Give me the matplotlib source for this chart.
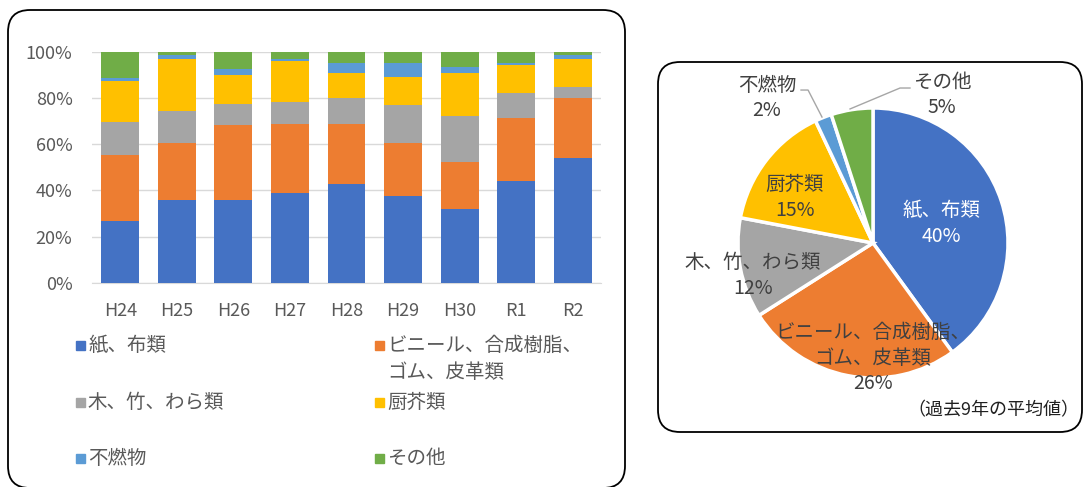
import numpy as np
import matplotlib
matplotlib.use("Agg")
import matplotlib.pyplot as plt
from matplotlib.patches import FancyBboxPatch, Rectangle

plt.rcParams['font.family'] = ['Noto Sans CJK JP', 'DejaVu Sans']

# ==========================
# DATA
# ==========================

years = ["H24", "H25", "H26", "H27", "H28", "H29", "H30", "R1", "R2"]

categories = ["紙、布類", "ビニール、合成樹脂、\nゴム、皮革類", "木、竹、わら類",
              "厨芥類", "不燃物", "その他"]

paper   = [27.0, 36.1, 36.1, 38.8, 43.0, 37.4, 31.8, 43.9, 54.0]
vinyl   = [28.3, 24.6, 32.0, 29.8, 25.6, 23.3, 20.6, 27.6, 26.1]
wood    = [14.1, 13.5,  9.2,  9.8, 11.4, 16.4, 19.8, 10.5,  4.8]
kitchen = [17.8, 22.8, 12.8, 17.7, 10.6, 12.1, 18.4, 12.2, 12.1]
nonburn = [ 1.3,  1.4,  2.6,  0.7,  4.4,  5.8,  2.9,  0.8,  1.4]
other   = [11.5,  1.6,  7.3,  3.2,  5.0,  5.0,  6.5,  5.0,  1.6]

pie_values = [40, 26, 12, 15, 2, 5]

colors = ["#4472C4", "#ED7D31", "#A5A5A5", "#FFC000", "#5B9BD5", "#70AD47"]

W, H = 1083, 487
fig = plt.figure(figsize=(W / 100, H / 100), dpi=100)

# ==========================
# BACKGROUND BOXES (pixel coords)
# ==========================

bg = fig.add_axes([0, 0, 1, 1], zorder=0)
bg.set_xlim(0, W)
bg.set_ylim(H, 0)
bg.axis("off")

bg.add_patch(FancyBboxPatch((8, 10), 617, 478,
                            boxstyle="round,pad=0,rounding_size=22",
                            facecolor="white", edgecolor="black", linewidth=1.3))
bg.add_patch(FancyBboxPatch((658, 62), 424, 370,
                            boxstyle="round,pad=0,rounding_size=22",
                            facecolor="white", edgecolor="black", linewidth=1.3))

# ==========================
# STACKED BAR CHART
# ==========================

ax = fig.add_axes([92 / W, (H - 283) / H, 509 / W, 231.3 / H], zorder=2)
ax.set_facecolor("none")

series = [paper, vinyl, wood, kitchen, nonburn, other]
x = np.arange(len(years))
bottom = np.zeros(len(years))
for vals, col in zip(series, colors):
    ax.bar(x, vals, width=0.67, bottom=bottom, color=col, zorder=3)
    bottom += np.array(vals)

ax.set_xlim(-0.5, len(years) - 0.5)
ax.set_ylim(0, 100)
ax.set_yticks(range(0, 101, 20))
ax.set_yticklabels([f"{v}%" for v in range(0, 101, 20)])
ax.set_xticks(x)
ax.set_xticklabels(years)
ax.tick_params(length=0, labelsize=13, colors="#595959")
ax.tick_params(axis="x", pad=14)
ax.tick_params(axis="y", pad=14)
ax.grid(axis="y", color="#D9D9D9", linewidth=1, zorder=0)
for s in ["top", "right", "left"]:
    ax.spines[s].set_visible(False)
ax.spines["bottom"].set_color("#D9D9D9")

# legend (manual grid like Excel)
leg_pos = [(80, 345), (379, 345), (80, 402), (379, 402), (80, 458), (379, 458)]
for (lx, ly), lab, col in zip(leg_pos, categories, colors):
    bg.add_patch(Rectangle((lx - 4.5, ly - 4.5), 9, 9, color=col, zorder=3))
    lines = lab.split("\n")
    for i, line in enumerate(lines):
        bg.text(lx + 8, ly + i * 28, line, fontsize=14, color="#595959",
                va="center", ha="left", zorder=3)

# ==========================
# PIE CHART
# ==========================

r_px = 135
cx, cy = 873, 243
side = 2.5 * r_px
pax = fig.add_axes([(cx - side / 2) / W, (H - cy - side / 2) / H, side / W, side / H],
                   zorder=2)
pax.pie(pie_values, colors=colors, startangle=90, counterclock=False,
        wedgeprops=dict(edgecolor="white", linewidth=2.5))

pie_names = ["紙、布類", "ビニール、合成樹脂、\nゴム、皮革類", "木、竹、わら類",
             "厨芥類", "不燃物", "その他"]
label_xy = [(0.51, 0.24), (0.0, -0.665), (-0.89, -0.148),
            (-0.578, 0.43), (-0.785, 1.17), (0.511, 1.19)]
label_col = ["white", "#404040", "#404040", "#404040", "#404040", "#404040"]
step = 25.5 / r_px
for name, v, (px, py), tc in zip(pie_names, pie_values, label_xy, label_col):
    lines = name.split("\n") + [f"{v}%"]
    for i, line in enumerate(lines):
        pax.text(px, py - i * step, line, fontsize=14, color=tc,
                 ha="center", va="center")

# leader lines
pax.plot([-0.533, -0.481, -0.378], [1.133, 1.133, 0.933], color="#A6A6A6", lw=1)
pax.plot([-0.170, 0.200, 0.274], [0.993, 1.148, 1.148], color="#A6A6A6", lw=1)

bg.text(1079, 410, "（過去9年の平均値）", fontsize=13, color="#202020",
        ha="right", va="center", zorder=3)

plt.savefig("out.png", dpi=100)
